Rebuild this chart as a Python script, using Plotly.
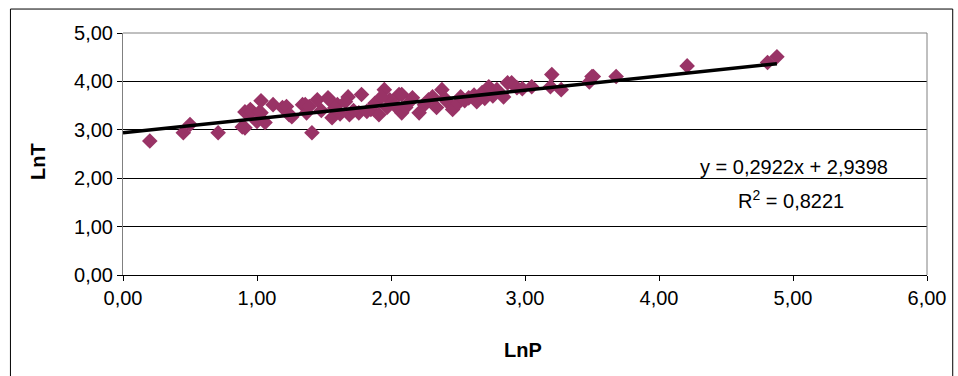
import plotly.graph_objects as go

# Data
ln_p = [0.20, 0.45, 0.50, 0.71, 0.89, 0.91, 0.91, 0.93, 0.95, 0.96,
        1.00, 1.02, 1.03, 1.03, 1.06, 1.12, 1.19, 1.22, 1.24, 1.26,
        1.34, 1.36, 1.37, 1.39, 1.41, 1.45, 1.53, 1.54, 1.56, 1.60,
        1.68, 1.69, 1.76, 1.78, 1.85, 1.91, 1.95, 1.97, 2.06, 2.08,
        2.08, 2.16, 2.11, 2.21, 2.31, 2.38, 2.34, 2.42, 2.46, 2.52,
        2.58, 2.64, 2.68, 2.73, 2.79, 2.87, 2.84, 2.90, 2.94, 3.05,
        3.20, 3.19, 3.27, 3.48, 3.50, 3.51, 3.68, 4.21, 4.81, 4.88,
        1.62, 1.72, 1.82, 1.88, 1.99, 2.03, 2.25, 2.28, 2.50, 2.55,
        2.70, 2.76, 1.48, 1.58, 1.66, 1.93, 2.13, 2.40, 2.62, 2.98]
ln_t = [2.77, 2.94, 3.11, 2.94, 3.06, 3.04, 3.37, 3.35, 3.42, 3.37,
        3.17, 3.37, 3.60, 3.35, 3.15, 3.52, 3.46, 3.48, 3.31, 3.27,
        3.52, 3.52, 3.35, 3.48, 2.94, 3.62, 3.66, 3.62, 3.25, 3.52,
        3.68, 3.31, 3.35, 3.73, 3.42, 3.31, 3.83, 3.46, 3.73, 3.35,
        3.73, 3.66, 3.46, 3.35, 3.68, 3.83, 3.46, 3.58, 3.42, 3.68,
        3.66, 3.58, 3.77, 3.89, 3.83, 3.97, 3.68, 3.97, 3.87, 3.89,
        4.14, 3.89, 3.83, 3.99, 4.10, 4.10, 4.10, 4.32, 4.39, 4.51,
        3.33, 3.40, 3.38, 3.55, 3.62, 3.50, 3.52, 3.62, 3.55, 3.60,
        3.65, 3.70, 3.40, 3.45, 3.58, 3.68, 3.55, 3.65, 3.72, 3.85]

slope = 0.2922
intercept = 2.9398
r2 = 0.8221
trend_x = [0.0, 4.88]
trend_y = [intercept + slope * v for v in trend_x]

x_ticks = [0, 1, 2, 3, 4, 5, 6]
y_ticks = [0, 1, 2, 3, 4, 5]

font_family = "Liberation Sans, Arial, sans-serif"
fs = 20

fig = go.Figure()
fig.add_trace(go.Scatter(
    x=ln_p, y=ln_t, mode="markers",
    marker=dict(symbol="diamond", size=12, color="#993366",
                line=dict(width=0)),
    showlegend=False, hoverinfo="x+y"))
fig.add_trace(go.Scatter(
    x=trend_x, y=trend_y, mode="lines",
    line=dict(color="black", width=3.5),
    showlegend=False, hoverinfo="skip"))

fig.update_layout(
    width=958, height=376,
    margin=dict(l=123, r=29, t=33, b=101),
    paper_bgcolor="white", plot_bgcolor="white",
    separators=", ",
    font=dict(family=font_family, size=fs, color="black"),
    xaxis=dict(range=[0, 6], tickvals=x_ticks, tickformat=".2f",
               showgrid=False, zeroline=False,
               showline=True, linecolor="black", linewidth=1,
               ticks="outside", ticklen=5, tickcolor="black",
               tickfont=dict(size=fs)),
    yaxis=dict(range=[0, 5], tickvals=y_ticks, tickformat=".2f",
               showgrid=True, gridcolor="black", gridwidth=1,
               zeroline=False,
               showline=True, linecolor="#808080", linewidth=1,
               ticks="outside", ticklen=5, tickcolor="black",
               tickfont=dict(size=fs)),
    shapes=[
        dict(type="line", xref="paper", yref="paper", x0=1, x1=1, y0=0, y1=1,
             line=dict(color="#808080", width=1)),
        dict(type="line", xref="paper", yref="paper", x0=0, x1=1, y0=1, y1=1,
             line=dict(color="#808080", width=1)),
        dict(type="rect", xref="paper", yref="paper",
             x0=-0.140, x1=1.032, y0=-0.45, y1=1.099,
             line=dict(color="black", width=1), fillcolor="rgba(0,0,0,0)"),
    ],
    annotations=[
        dict(text="<b>LnT</b>", xref="paper", yref="paper", x=-0.106, y=0.47,
             xanchor="center", yanchor="middle",
             textangle=-90, showarrow=False, font=dict(size=fs)),
        dict(text="<b>LnP</b>", xref="paper", yref="paper", x=0.498, y=-0.31,
             xanchor="center", yanchor="middle",
             showarrow=False, font=dict(size=fs)),
        dict(text="y = 0,2922x + 2,9398", xref="paper", yref="paper",
             x=0.835, y=0.447, xanchor="center", yanchor="middle",
             showarrow=False, font=dict(size=fs)),
        dict(text="R<sup>2</sup> = 0,8221", xref="paper", yref="paper",
             x=0.831, y=0.31, xanchor="center", yanchor="middle",
             showarrow=False, font=dict(size=fs)),
    ],
)

fig.write_html("out.html")
